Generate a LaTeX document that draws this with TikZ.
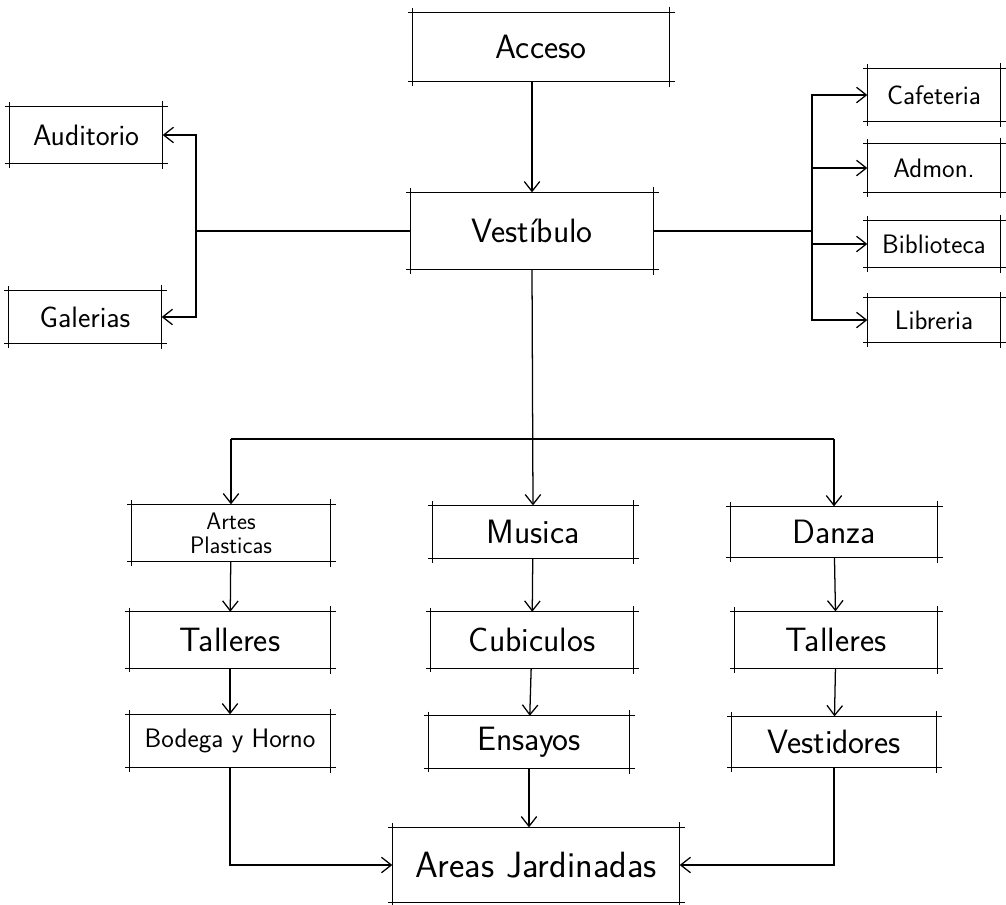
\documentclass[tikz,border=0pt]{standalone}
\usetikzlibrary{arrows.meta}
\renewcommand{\familydefault}{\sfdefault}
\begin{document}
\begin{tikzpicture}[x=0.025cm,y=-0.025cm,line width=0.9pt,
  box/.style={inner sep=2pt,align=center,font=\fontsize{24}{26}\selectfont},
  small/.style={box,font=\fontsize{19}{20}\selectfont},
  arr/.style={-{Straight Barb[length=7pt,width=11pt]}}]
  \useasboundingbox (0,0) rectangle (1006,904);

  % main spine
  \node[box,minimum width=6.4cm,minimum height=1.7cm] (acceso) at (541,47) {Acceso};
  \node[box,minimum width=6.05cm,minimum height=1.9cm] (vestibulo) at (532,231) {Vestíbulo};

  % left wing
  \node[small,font=\fontsize{21}{22}\selectfont,minimum width=3.8cm,minimum height=1.4cm] (auditorio) at (86,135) {Auditorio};
  \node[small,font=\fontsize{21}{22}\selectfont,minimum width=3.8cm,minimum height=1.3cm] (galerias) at (85,317) {Galerias};

  % right wing
  \node[small,minimum width=3.3cm,minimum height=1.3cm] (cafeteria) at (934,95) {Cafeteria};
  \node[small,minimum width=3.3cm,minimum height=1.2cm] (admon) at (934,168) {Admon.};
  \node[small,minimum width=3.3cm,minimum height=1.15cm] (biblioteca) at (934,244) {Biblioteca};
  \node[small,minimum width=3.3cm,minimum height=1.1cm] (libreria) at (934,320) {Libreria};

  % three columns
  \node[small,font=\fontsize{17}{17}\selectfont,minimum width=4.95cm,minimum height=1.4cm] (artes) at (231,533) {Artes\\Plasticas};
  \node[box,minimum width=5cm,minimum height=1.3cm] (musica) at (533,532) {Musica};
  \node[box,minimum width=5.15cm,minimum height=1.25cm] (danza) at (834,532) {Danza};
  \node[box,minimum width=5cm,minimum height=1.38cm] (talleresA) at (230,640) {Talleres};
  \node[box,minimum width=5.05cm,minimum height=1.38cm] (cubiculos) at (532,640) {Cubiculos};
  \node[box,minimum width=5.05cm,minimum height=1.4cm] (talleresD) at (836,640) {Talleres};
  \node[small,minimum width=5cm,minimum height=1.3cm] (bodega) at (230,741) {Bodega y Horno};
  \node[box,minimum width=5cm,minimum height=1.28cm] (ensayos) at (529,742) {Ensayos};
  \node[box,minimum width=5.1cm,minimum height=1.25cm] (vestidores) at (834,742) {Vestidores};
  \node[box,font=\fontsize{26}{28}\selectfont,minimum width=7.15cm,minimum height=1.85cm] (areas) at (536,865) {Areas Jardinadas};

  % sketched frames, corners run over
  \foreach \n in {acceso,vestibulo,auditorio,galerias,cafeteria,admon,biblioteca,libreria,
                  artes,musica,danza,talleresA,cubiculos,talleresD,bodega,ensayos,vestidores,areas} {
    \draw ([xshift=-3pt]\n.north west) -- ([xshift=4pt]\n.north east);
    \draw ([xshift=-3pt]\n.south west) -- ([xshift=4pt]\n.south east);
    \draw ([yshift=3pt]\n.north west) -- ([yshift=-3pt]\n.south west);
    \draw ([yshift=4pt]\n.north east) -- ([yshift=-4pt]\n.south east);
  }

  \coordinate (lbus) at (196,231);
  \coordinate (rbus) at (812,231);
  \coordinate (dbus) at (532,439);

  \draw[arr] (acceso.south -| vestibulo.north) -- (vestibulo.north);
  \draw (vestibulo.west) -- (lbus);
  \draw[arr] (lbus) |- (auditorio.east);
  \draw[arr] (lbus) |- (galerias.east);
  \draw (vestibulo.east) -- (rbus);
  \foreach \n in {cafeteria,admon,biblioteca,libreria}
    \draw[arr] (rbus) |- (\n.west);

  \draw[arr] (vestibulo.south) -- (musica.north);
  \draw (dbus -| artes) -- (dbus -| danza);
  \draw[arr] (dbus -| artes) -- (artes.north);
  \draw[arr] (dbus -| danza) -- (danza.north);
  \foreach \a/\b in {artes/talleresA,talleresA/bodega,musica/cubiculos,
                     cubiculos/ensayos,danza/talleresD,talleresD/vestidores}
    \draw[arr] (\a) -- (\b);

  \draw[arr] (ensayos.south) -- (ensayos.south |- areas.north);
  \draw[arr] (bodega.south) |- (areas.west);
  \draw[arr] (vestidores.south) |- (areas.east);
\end{tikzpicture}
\end{document}
